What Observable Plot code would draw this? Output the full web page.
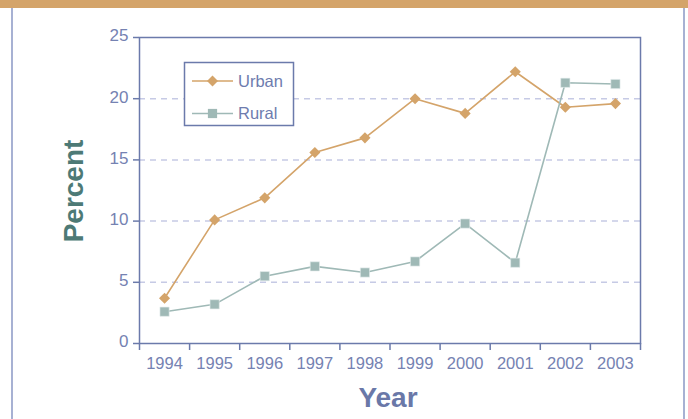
<!DOCTYPE html>
<html>
<head>
<meta charset="utf-8">
<script src="https://cdn.jsdelivr.net/npm/d3@7"></script>
<script src="https://cdn.jsdelivr.net/npm/@observablehq/plot@0.6"></script>
<style>
  html, body { margin: 0; padding: 0; background: #fff; }
  #wrap { position: relative; width: 688px; height: 419px; overflow: hidden; background: #fff; font-family: "Liberation Sans", Arial, sans-serif; }
  #band { position: absolute; left: 0; top: 0; width: 688px; height: 8px; background: #d4a46a; }
  #side { position: absolute; left: 11px; top: 8px; width: 674px; height: 411px; border-left: 2px solid #a7b1d3; border-right: 2px solid #a7b1d3; box-sizing: border-box; }
  #chart { position: absolute; left: 0; top: 8px; }
</style>
</head>
<body>
<div id="wrap">
  <div id="band"></div>
  <div id="side"></div>
  <div id="chart"></div>
</div>
<script>
const years = [1994, 1995, 1996, 1997, 1998, 1999, 2000, 2001, 2002, 2003];
const urban = [3.7, 10.1, 11.9, 15.6, 16.8, 20.0, 18.8, 22.2, 19.3, 19.6];
const rural = [2.6, 3.2, 5.5, 6.3, 5.8, 6.7, 9.8, 6.6, 21.3, 21.2];
const yTicks = [0, 5, 10, 15, 20, 25];
const gridTicks = [5, 10, 15, 20];
const seriesNames = ["Urban", "Rural"];
const yTitle = "Percent";
const xTitle = "Year";

const urbanColor = "#d4a46a";
const ruralColor = "#9fb9b6";
const axisColor = "#6b7aab";
const labelColor = "#7582b2";

const urbanData = years.map((year, i) => ({year, value: urban[i]}));
const ruralData = years.map((year, i) => ({year, value: rural[i]}));
const boundaries = [...years.map(y => y - 0.5), years[years.length - 1] + 0.5];

const plot = Plot.plot({
  width: 688,
  height: 411,
  marginTop: 29,
  marginBottom: 76,
  marginLeft: 139,
  marginRight: 48,
  style: {fontFamily: "'Liberation Sans', Arial, sans-serif", color: axisColor, background: "transparent", overflow: "visible"},
  x: {type: "linear", domain: [years[0] - 0.5, years[years.length - 1] + 0.5]},
  y: {domain: [0, 25]},
  marks: [
    Plot.ruleY(gridTicks, {stroke: "#c6cae5", strokeWidth: 1.5, strokeDasharray: "6,5"}),
    Plot.frame({stroke: axisColor, strokeWidth: 1.5}),
    Plot.axisY({ticks: yTicks, tickSize: 6, tickFormat: () => "", strokeWidth: 1.5, label: null}),
    Plot.axisY({ticks: yTicks, tickSize: 0, tickPadding: 11, dy: -1.5, fontSize: 17, fill: labelColor, label: null}),
    Plot.axisX({ticks: boundaries, tickSize: 7, tickFormat: () => "", strokeWidth: 1.5, label: null}),
    Plot.axisX({ticks: years, tickSize: 0, tickPadding: 14, tickFormat: d => String(d), fontSize: 16.5, fill: labelColor, label: null}),
    Plot.line(urbanData, {x: "year", y: "value", stroke: urbanColor, strokeWidth: 1.6}),
    Plot.dot(urbanData, {x: "year", y: "value", symbol: "diamond2", r: 5, fill: urbanColor}),
    Plot.line(ruralData, {x: "year", y: "value", stroke: ruralColor, strokeWidth: 1.6}),
    Plot.dot(ruralData, {x: "year", y: "value", symbol: "square", r: 5.2, fill: ruralColor, stroke: "#e4ecec", strokeWidth: 0.6})
  ]
});

document.getElementById("chart").appendChild(plot);

const svg = d3.select(plot);

// Axis titles
svg.append("text")
  .attr("transform", "translate(83,183) rotate(-90)")
  .attr("text-anchor", "middle")
  .attr("font-size", 28).attr("font-weight", "bold")
  .attr("fill", "#4d7a76")
  .text(yTitle);
svg.append("text")
  .attr("x", 388).attr("y", 399)
  .attr("text-anchor", "middle")
  .attr("font-size", 28).attr("font-weight", "bold")
  .attr("fill", "#6a78a8")
  .text(xTitle);

// Legend
const lg = svg.append("g");
lg.append("rect").attr("x", 184.5).attr("y", 54.5).attr("width", 109).attr("height", 63)
  .attr("fill", "#fff").attr("stroke", axisColor).attr("stroke-width", 1.5);
const entries = [
  {name: seriesNames[0], color: urbanColor, symbol: d3.symbolDiamond2, size: 78, y: 73},
  {name: seriesNames[1], color: ruralColor, symbol: d3.symbolSquare, size: 85, y: 105.5}
];
for (const e of entries) {
  lg.append("line").attr("x1", 192).attr("x2", 233).attr("y1", e.y).attr("y2", e.y)
    .attr("stroke", e.color).attr("stroke-width", 1.6);
  lg.append("path").attr("d", d3.symbol(e.symbol, e.size)()).attr("transform", `translate(212.5,${e.y})`)
    .attr("fill", e.color);
  lg.append("text").attr("x", 238).attr("y", e.y).attr("dy", "0.35em")
    .attr("text-anchor", "start")
    .attr("font-size", 16.5).attr("fill", "#6e7cae").text(e.name);
}
</script>
</body>
</html>
